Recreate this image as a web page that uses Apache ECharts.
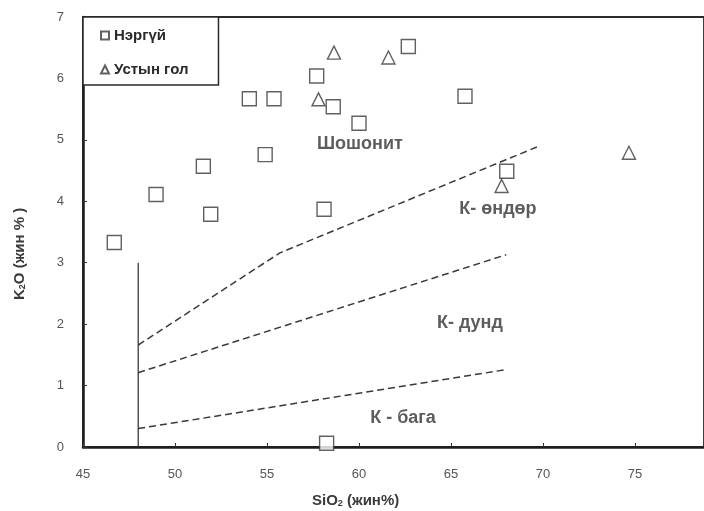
<!DOCTYPE html>
<html>
<head>
<meta charset="utf-8">
<script src="https://cdn.jsdelivr.net/npm/echarts@6/dist/echarts.min.js"></script>
<style>html,body{margin:0;padding:0;background:#fff}#c{width:704px;height:511px}</style>
</head>
<body>
<div id="c"></div>
<script>
// ---- data ----
var xTicks = [45, 50, 55, 60, 65, 70, 75];
var yTicks = [0, 1, 2, 3, 4, 5, 6, 7];
var nergui = [
  [46.7, 3.33], [48.97, 4.11], [51.54, 4.57], [51.94, 3.79], [54.04, 5.67],
  [55.38, 5.67], [54.9, 4.76], [57.7, 6.04], [58.6, 5.54], [60.0, 5.27],
  [62.68, 6.52], [65.76, 5.71], [58.1, 3.87], [68.03, 4.49], [58.24, 0.06]
];
var ustynGol = [
  [58.64, 6.42], [61.6, 6.34], [57.8, 5.66], [67.75, 4.25], [74.67, 4.79]
];
var boundaryHigh = [[48, 1.66], [55.7, 3.16], [69.8, 4.9]];
var boundaryMid = [[48, 1.21], [68, 3.13]];
var boundaryLow = [[48, 0.30], [68, 1.26]];
var basaltLimit = [[48, 0], [48, 3.0]];
var regionLabels = [
  { name: 'Шошонит', value: [60.05, 4.93] },
  { name: 'К- өндөр', value: [67.55, 3.87] },
  { name: 'К- дунд', value: [66.03, 2.02] },
  { name: 'К - бага', value: [62.39, 0.47] }
];
var seriesNames = ['Нэргүй', 'Устын гол'];

// ---- chart ----
var FONT = '"Liberation Sans", Arial, sans-serif';
var chart = echarts.init(document.getElementById('c'), null, { renderer: 'canvas' });
var markStyle = { color: '#fff', borderColor: '#3a3a3a', borderWidth: 1.4 };
var dash = { color: '#3a3a3a', width: 1.5, type: [7, 4] };

function dashed(data) {
  return {
    type: 'line', data: data, symbol: 'none', silent: true,
    lineStyle: dash, z: 2
  };
}

chart.setOption({
  animation: false,
  backgroundColor: '#fff',
  grid: {
    left: 83, top: 17, right: 0, bottom: 64,
    show: true, borderColor: '#2a2a2a', borderWidth: 1.8
  },
  legend: {
    orient: 'vertical', left: 83, top: 17,
    padding: [11, 30, 8, 17],
    itemGap: 19,
    itemWidth: 8, itemHeight: 8,
    borderColor: '#2a2a2a', borderWidth: 1.5,
    backgroundColor: '#fff',
    textStyle: { fontFamily: FONT, fontWeight: 'bold', fontSize: 15, color: '#2a2a2a', padding: [0, 0, 0, 0] },
    data: [
      { name: seriesNames[0], icon: 'rect' },
      { name: seriesNames[1], icon: 'triangle' }
    ]
  },
  xAxis: {
    type: 'value', min: 45, max: 78.75, interval: 5,
    axisLine: { show: true, onZero: false, lineStyle: { color: '#1e1e1e', width: 2.5 } },
    axisTick: { show: true, inside: true, length: 4, lineStyle: { color: '#333' } },
    axisLabel: {
      margin: 21, color: '#555', fontFamily: FONT, fontSize: 13,
      showMaxLabel: false,
      formatter: function (v) { return xTicks.indexOf(v) >= 0 ? String(v) : ''; }
    },
    splitLine: { show: false }
  },
  yAxis: {
    type: 'value', min: 0, max: 7, interval: 1,
    axisLine: { show: true, onZero: false, lineStyle: { color: '#1e1e1e', width: 2.5 } },
    axisTick: { show: true, inside: true, length: 4, lineStyle: { color: '#333' } },
    axisLabel: {
      margin: 19, color: '#555', fontFamily: FONT, fontSize: 13,
      formatter: function (v) { return yTicks.indexOf(v) >= 0 ? String(v) : ''; }
    },
    splitLine: { show: false }
  },
  graphic: [
    {
      type: 'text', left: 312, top: 493, silent: true,
      style: {
        text: 'SiO{sub|2} (жин%)', fill: '#3a3a3a',
        font: 'bold 15px ' + FONT,
        rich: { sub: { fontSize: 9, fontWeight: 'bold', fontFamily: FONT, fill: '#3a3a3a', verticalAlign: 'bottom', padding: [6, 0, 0, 0] } }
      }
    },
    {
      type: 'text', x: 12, y: 300, rotation: Math.PI / 2, silent: true,
      style: {
        text: 'K{sub|2}O (жин % )', fill: '#3a3a3a',
        font: 'bold 15px ' + FONT,
        rich: { sub: { fontSize: 9, fontWeight: 'bold', fontFamily: FONT, fill: '#3a3a3a', verticalAlign: 'bottom', padding: [6, 0, 0, 0] } }
      }
    }
  ],
  series: [
    {
      name: seriesNames[0], type: 'scatter', data: nergui,
      symbol: 'rect', symbolSize: 14, itemStyle: markStyle, z: 5
    },
    {
      name: seriesNames[1], type: 'scatter', data: ustynGol,
      symbol: 'triangle', symbolSize: [13, 13], itemStyle: markStyle, z: 5
    },
    dashed(boundaryHigh),
    dashed(boundaryMid),
    dashed(boundaryLow),
    {
      type: 'line', data: basaltLimit, symbol: 'none', silent: true,
      lineStyle: { color: '#2a2a2a', width: 1.2 }, z: 2
    },
    {
      type: 'scatter', data: regionLabels, symbolSize: 0, silent: true, z: 6,
      label: {
        show: true, position: 'inside', formatter: '{b}',
        fontFamily: FONT, fontWeight: 'bold', fontSize: 18, color: '#333'
      }
    }
  ]
});
</script>
</body>
</html>
